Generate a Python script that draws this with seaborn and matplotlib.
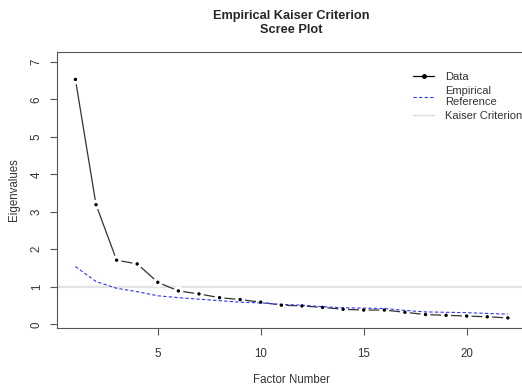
import numpy as np
import pandas as pd
import matplotlib
matplotlib.use("Agg")
import matplotlib.pyplot as plt
from matplotlib.lines import Line2D
import seaborn as sns

# Eigenvalues of the observed data and the empirical Kaiser reference values
factor_number = list(range(1, 23))
data_eigenvalues = [6.53, 3.19, 1.71, 1.61, 1.12, 0.89, 0.81, 0.71, 0.66, 0.59, 0.51,
                    0.49, 0.45, 0.40, 0.38, 0.38, 0.32, 0.26, 0.24, 0.22, 0.20, 0.17]
empirical_reference = [1.54, 1.14, 0.96, 0.87, 0.76, 0.71, 0.67, 0.63, 0.59, 0.57, 0.53,
                       0.51, 0.47, 0.44, 0.43, 0.42, 0.37, 0.33, 0.32, 0.31, 0.29, 0.27]
kaiser_level = 1.0
x_ticks = [5, 10, 15, 20]
y_ticks = [0, 1, 2, 3, 4, 5, 6, 7]

df = pd.DataFrame({"factor": factor_number,
                   "data": data_eigenvalues,
                   "reference": empirical_reference})

sns.set_style("white")
plt.rcParams["font.family"] = ["Liberation Sans", "DejaVu Sans"]

fig = plt.figure(figsize=(5.22, 3.88), dpi=100)
ax = fig.add_axes([57.3 / 522, 1 - 328.3 / 388, (526 - 57.3) / 522, (328.3 - 51.7) / 388])

# Kaiser criterion line
ax.axhline(kaiser_level, color="#e3e3e3", lw=1.6, zorder=1)

# observed eigenvalues: line with gaps around the points
sns.lineplot(data=df, x="factor", y="data", ax=ax, color="#333333", lw=0.9, zorder=2)
sns.scatterplot(data=df, x="factor", y="data", ax=ax, color="white", s=50,
                edgecolor="none", zorder=3)
sns.lineplot(data=df, x="factor", y="reference", ax=ax, color="#3333ff", lw=0.8,
             linestyle=(0, (3, 2)), zorder=4)
sns.scatterplot(data=df, x="factor", y="data", ax=ax, color="black", s=6,
                edgecolor="none", zorder=5)

ax.set_xlim(0.12, 22.88)
ax.set_ylim(-0.107, 7.27)
ax.set_xticks(x_ticks)
ax.set_yticks(y_ticks)
ax.set_xticklabels([str(t) for t in x_ticks], fontsize=8.3, color="#333333")
ax.set_yticklabels([str(t) for t in y_ticks], fontsize=8.3, color="#333333",
                   rotation=90, va="center")
ax.tick_params(axis="both", direction="out", length=5, width=0.8, color="#555555",
               left=True, bottom=True)
ax.tick_params(axis="x", pad=9)
ax.tick_params(axis="y", pad=5.5)

for side in ["left", "top", "bottom"]:
    ax.spines[side].set_visible(True)
    ax.spines[side].set_color("#555555")
    ax.spines[side].set_linewidth(0.8)
ax.spines["right"].set_visible(False)

ax.set_xlabel("Factor Number", fontsize=8.3, color="#333333", labelpad=10)
ax.set_ylabel("Eigenvalues", fontsize=8.3, color="#333333", labelpad=7.5)

fig.text(0.5575, 1 - 10 / 388, "Empirical Kaiser Criterion\nScree Plot",
         ha="center", va="top", fontsize=9.2, fontweight="bold",
         linespacing=1.2)

handles = [
    Line2D([], [], color="black", lw=0.9, marker="o", markersize=2.5),
    Line2D([], [], color="#3333ff", lw=0.8, linestyle=(0, (3, 2))),
    Line2D([], [], color="#dddddd", lw=1.0),
]
labels = ["Data", "Empirical\nReference", "Kaiser Criterion"]
fig.legend(handles, labels, loc="upper left", bbox_to_anchor=(403 / 522, 1 - 62 / 388),
           frameon=False, fontsize=8, handlelength=1.9, handletextpad=1.0,
           labelspacing=0.35, labelcolor="#333333")

fig.savefig("out.png", dpi=100)
